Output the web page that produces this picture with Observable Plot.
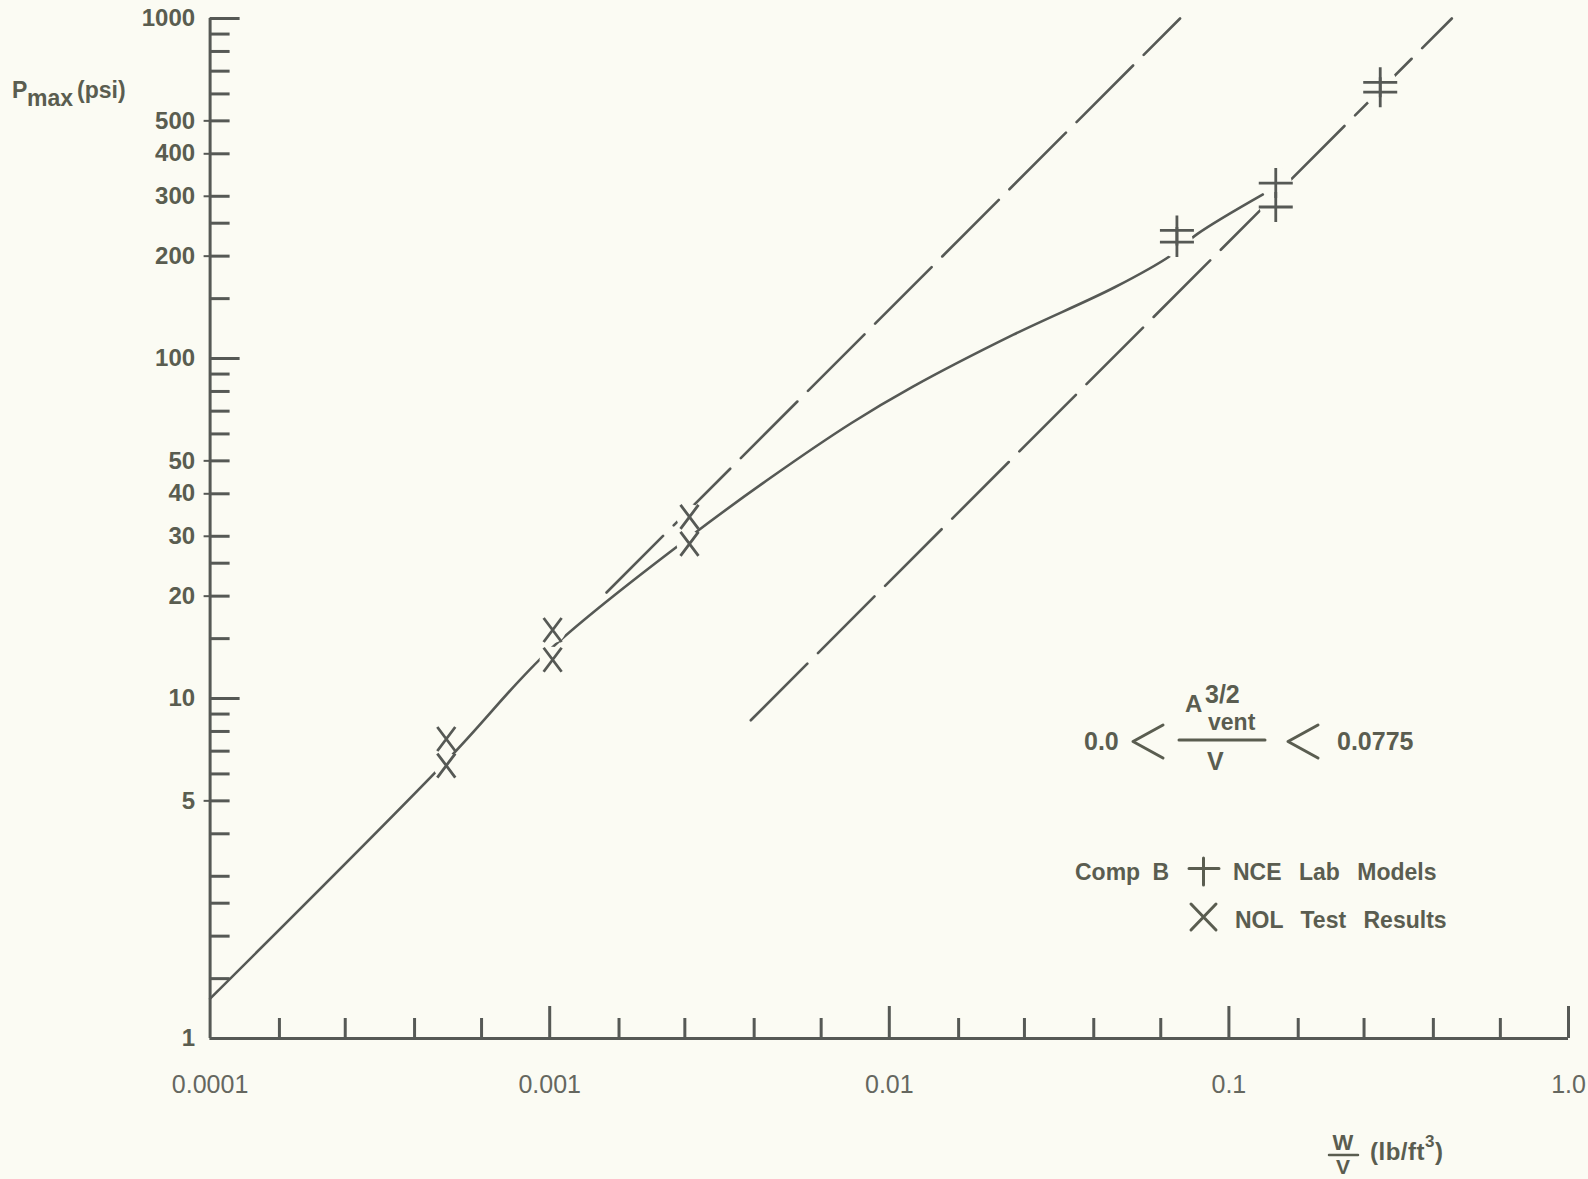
<!DOCTYPE html>
<html>
<head>
<meta charset="utf-8">
<script src="https://cdn.jsdelivr.net/npm/d3@7"></script>
<script src="https://cdn.jsdelivr.net/npm/@observablehq/plot@0.6"></script>
<style>
  html, body { margin: 0; padding: 0; background: #fbfbf3; }
  svg { display: block; }
</style>
</head>
<body>
<div id="chart"></div>
<script>
// ---------------- data ----------------
// NOL Test Results (X markers)
const nolX = [0.000496, 0.000496, 0.00102, 0.00102, 0.00258, 0.00258];
const nolY = [7.6, 6.35, 15.9, 13.0, 34.2, 28.5];
// NCE Lab Models (+ markers)
const nceX = [0.0703, 0.0703, 0.1374, 0.1374, 0.279, 0.279];
const nceY = [238, 220, 328, 279, 649, 607];
// solid fitted curve
const curveX = [0.0001, 0.0005, 0.001, 0.0026, 0.00446, 0.00774, 0.0117, 0.0232, 0.0461, 0.0673, 0.081, 0.126];
const curveY = [1.31, 6.6, 13.9, 30.0, 44.5, 64.6, 82.5, 117.5, 162, 200.6, 233, 304];
// upper dashed line
const upperX = [0.00147, 0.0718];
const upperY = [20.5, 1000];
// lower dashed line
const lowerX = [0.00391, 0.4533];
const lowerY = [8.63, 1000];
// axes
const yMajorTicks = [1, 10, 100, 1000];
const yMinorTicks = [1.5, 2, 2.5, 3, 4, 5, 6, 7, 8, 9, 15, 20, 25, 30, 40, 50, 60, 70, 80, 90, 150, 200, 250, 300, 400, 500, 600, 700, 800, 900];
const yLabelTicks = [1, 5, 10, 20, 30, 40, 50, 100, 200, 300, 400, 500, 1000];
const yLabelText = ["1", "5", "10", "20", "30", "40", "50", "100", "200", "300", "400", "500", "1000"];
const xMajorTicks = [0.0001, 0.001, 0.01, 0.1, 1];
const xLabelText = ["0.0001", "0.001", "0.01", "0.1", "1.0"];
const xMinorMult = [1.6, 2.5, 4, 6.3];
const xDecades = [0.0001, 0.001, 0.01, 0.1];

// ---------------- build ----------------
const W = 1588, H = 1179;
const mL = 209.6, mR = 20, mT = 18, mB = 141;
const plotW = W - mL - mR, plotH = H - mT - mB;
const bg = "#fbfbf3";
const ink = "#565955";
const txt = "#5a5d50";
const font = "'Liberation Sans', Arial, Helvetica, sans-serif";

const nol = nolX.map((x, i) => ({x, y: nolY[i]}));
const nce = nceX.map((x, i) => ({x, y: nceY[i]}));
const curve = curveX.map((x, i) => ({x, y: curveY[i]}));
const upper = upperX.map((x, i) => ({x, y: upperY[i]}));
const lower = lowerX.map((x, i) => ({x, y: lowerY[i]}));
const xMinorTicks = xDecades.flatMap(d => xMinorMult.map(m => d * m));
const yStubs = yLabelTicks.filter(v => !yMajorTicks.includes(v));

const plusSym = {draw(ctx) { ctx.moveTo(-17, 0); ctx.lineTo(17, 0); ctx.moveTo(0, -15); ctx.lineTo(0, 15); }};
const xSym = {draw(ctx) { ctx.moveTo(-9, -12); ctx.lineTo(9, 12); ctx.moveTo(9, -12); ctx.lineTo(-9, 12); }};

const svg = Plot.plot({
  width: W, height: H,
  marginLeft: mL, marginRight: mR, marginTop: mT, marginBottom: mB,
  style: {background: bg, fontFamily: font},
  x: {type: "log", domain: [0.0001, 1], axis: null},
  y: {type: "log", domain: [1, 1000], axis: null},
  marks: [
    // axis lines
    Plot.ruleX([0.0001], {stroke: ink, strokeWidth: 3}),
    Plot.ruleY([1], {stroke: ink, strokeWidth: 3}),
    // y ticks (inside)
    Plot.tickY(yMinorTicks, {y: d => d, insetRight: plotW - 20, stroke: ink, strokeWidth: 3}),
    Plot.tickY(yMajorTicks, {y: d => d, insetRight: plotW - 30, stroke: ink, strokeWidth: 3}),
    Plot.tickY(yStubs, {y: d => d, insetLeft: -6, insetRight: plotW, stroke: ink, strokeWidth: 2}),
    // x ticks (inside)
    Plot.tickX(xMinorTicks, {x: d => d, insetTop: plotH - 20, stroke: ink, strokeWidth: 3}),
    Plot.tickX(xMajorTicks.slice(1), {x: d => d, insetTop: plotH - 32, stroke: ink, strokeWidth: 3}),
    // tick labels
    Plot.text(yLabelTicks, {y: d => d, text: (d, i) => yLabelText[i], frameAnchor: "left", dx: -15,
      textAnchor: "end", lineAnchor: "middle", fontSize: 24, fontWeight: "bold", fill: txt}),
    Plot.text(xMajorTicks, {x: d => d, text: (d, i) => xLabelText[i], frameAnchor: "bottom", dy: 46,
      textAnchor: "middle", lineAnchor: "middle", fontSize: 25, fill: "#65675f"}),
    // lines
    Plot.line(upper, {x: "x", y: "y", stroke: ink, strokeWidth: 2.6, strokeDasharray: "80,15"}),
    Plot.line(lower, {x: "x", y: "y", stroke: ink, strokeWidth: 2.6, strokeDasharray: "80,15"}),
    Plot.line(curve, {x: "x", y: "y", stroke: ink, strokeWidth: 2.6, curve: "catmull-rom"}),
    // gaps around markers
    Plot.dot(nol, {x: "x", y: "y", r: 13, fill: bg, stroke: null}),
    Plot.dot(nce, {x: "x", y: "y", r: 16, fill: bg, stroke: null}),
    // markers
    Plot.dot(nol, {x: "x", y: "y", symbol: xSym, fill: "none", stroke: ink, strokeWidth: 2.8}),
    Plot.dot(nce, {x: "x", y: "y", symbol: plusSym, fill: "none", stroke: ink, strokeWidth: 2.8})
  ]
});

document.getElementById("chart").appendChild(svg);

// ---------------- text annotations ----------------
const g = d3.select(svg).append("g")
  .attr("font-family", font).attr("font-weight", "bold").attr("fill", txt);

function t(x, y, s, size, anchor = "start", extra = {}) {
  const e = g.append("text").attr("x", x).attr("y", y).attr("font-size", size)
    .attr("text-anchor", anchor).text(s);
  for (const k in extra) e.attr(k, extra[k]);
  return e;
}
function path(d, w = 3) {
  g.append("path").attr("d", d).attr("fill", "none").attr("stroke", txt)
    .attr("stroke-width", w).attr("stroke-linecap", "round").attr("stroke-linejoin", "round");
}

// y title: P_max (psi)
t(12, 98, "P", 23);
t(27, 106, "max", 23);
t(77, 98, "(psi)", 23);

// x title: W/V (lb/ft^3)
t(1343, 1150, "W", 22, "middle");
path("M1329,1155 L1358,1155", 2.5);
t(1343, 1174, "V", 21, "middle");
const xt = t(1370, 1160, "", 24, "start", {"letter-spacing": 0.5});
xt.append("tspan").text("(lb/ft");
xt.append("tspan").attr("font-size", 17).attr("dy", -13).text("3");
xt.append("tspan").attr("dy", 13).text(")");

// annotation: 0.0 < A^{3/2}_{vent} / V < 0.0775
t(1084, 750, "0.0", 25);
path("M1163,725 L1133,741.5 L1163,758", 3);
path("M1179,740 L1265,740", 3);
t(1185, 711.5, "A", 24);
t(1205, 703, "3/2", 25);
t(1208, 730, "vent", 23);
t(1207, 770, "V", 25);
path("M1318,725 L1288,741.5 L1318,758", 3);
t(1337, 750, "0.0775", 25);

// legend
t(1075, 880, "Comp B", 23, "start", {"word-spacing": 6});
path("M1189,868.5 L1219,868.5 M1203.5,858 L1203.5,885", 3);
t(1233, 879.5, "NCE Lab Models", 23, "start", {"word-spacing": 11});
path("M1191,904 L1216,930 M1216,904 L1191,930", 3);
t(1235, 927.5, "NOL Test Results", 23, "start", {"word-spacing": 11});
</script>
</body>
</html>
